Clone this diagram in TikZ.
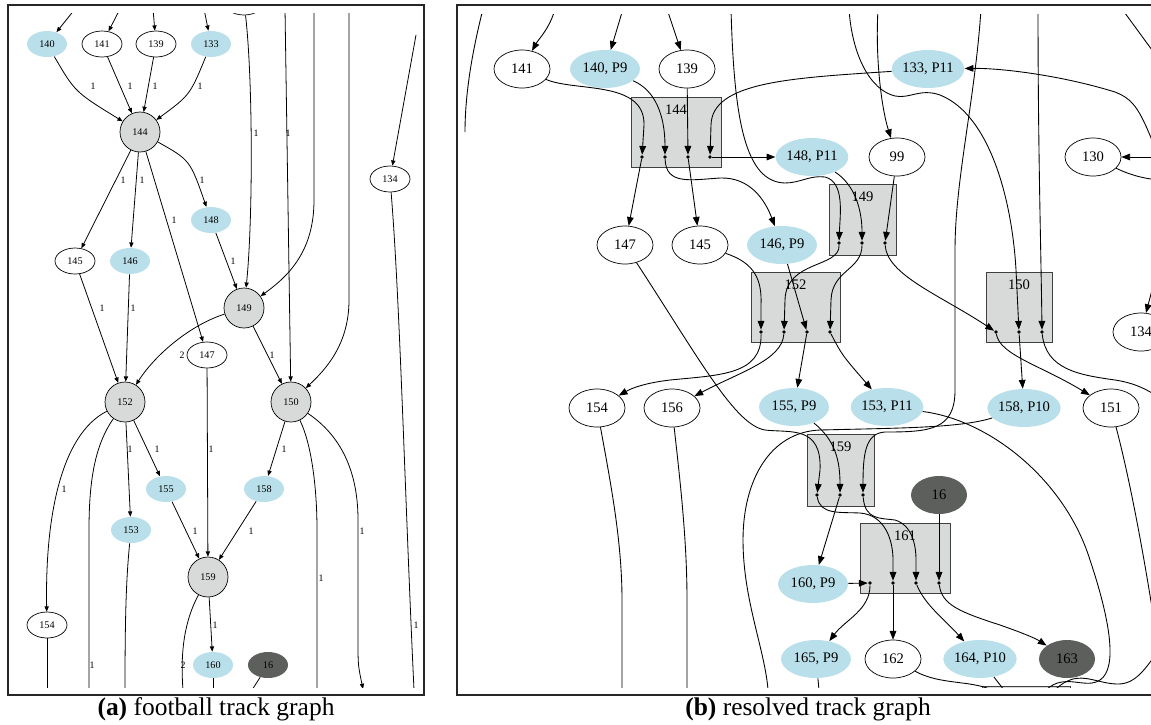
\documentclass[tikz,border=0pt]{standalone}
\usepackage{fontspec}
\setmainfont{Liberation Serif}
\usepackage{xcolor}
\usetikzlibrary{shapes.geometric, arrows.meta}
\usetikzlibrary{positioning}
\definecolor{trkblue}{RGB}{185,224,234}
\definecolor{hubgray}{RGB}{216,218,218}
\definecolor{deadgray}{RGB}{93,95,93}
\tikzstyle{lnd} = [ellipse, draw, inner sep=0pt, minimum width=0.8cm, minimum height=0.52cm, font=\fontsize{5.8}{6}\selectfont]
\tikzstyle{lbl} = [lnd, draw=none, fill=trkblue]
\tikzstyle{ldk} = [lnd, draw=none, fill=deadgray]
\tikzstyle{lhub} = [circle, draw, fill=hubgray, inner sep=0pt, minimum size=0.8cm, font=\fontsize{5.8}{6}\selectfont]
\tikzstyle{elbl} = [inner sep=0pt, font=\fontsize{5.6}{6}\selectfont]
\tikzstyle{ledge} = [-{Triangle[length=3pt, width=2.4pt]}, line width=0.45pt]
\tikzstyle{lline} = [line width=0.45pt]
\tikzstyle{rnd} = [ellipse, draw, inner sep=0pt, minimum width=1.12cm, minimum height=0.76cm, font=\fontsize{8.3}{9}\selectfont]
\tikzstyle{rbl} = [rnd, draw=none, fill=trkblue, minimum width=1.4cm]
\tikzstyle{rdk} = [rnd, draw=none, fill=deadgray]
\tikzstyle{rbox} = [rectangle, draw=black!75, fill=hubgray, inner sep=0pt, line width=0.5pt]
\tikzstyle{boxlbl} = [below=0.04cm, font=\fontsize{8.3}{9}\selectfont]
\tikzstyle{pdot} = [circle, fill, inner sep=0pt, minimum size=2.2pt]
\tikzstyle{redge} = [-{Triangle[length=5pt, width=3.8pt]}, line width=0.5pt]
\tikzstyle{rline} = [line width=0.5pt]
\tikzstyle{capt} = [inner sep=0pt, font=\fontsize{14.5}{17}\selectfont]
\tikzstyle{frame} = [line width=0.6pt, draw=black!85]

\begin{document}
\begin{tikzpicture}[x=0.02cm, y=-0.02cm]
  \useasboundingbox (0,0) rectangle (1151,724);

  % (a) football track graph
  \draw[frame] (8,5) rectangle (424,695);
  \begin{scope}
    \clip (8,13) rectangle (424,687);
    \node[lnd] (n0L) at (244,2) {};
    \node[lbl] (n140L) at (47,44) {140};
    \node[lnd] (n141L) at (102,44) {141};
    \node[lnd] (n139L) at (156,44) {139};
    \node[lbl] (n133L) at (211,44) {133};
    \node[lhub] (h144L) at (140,132) {144};
    \node[lnd] (n134L) at (390,179) {134};
    \node[lbl] (n148L) at (211,220) {148};
    \node[lnd] (n145L) at (75,261) {145};
    \node[lbl] (n146L) at (130,261) {146};
    \node[lhub] (h149L) at (244,308) {149};
    \node[lnd] (n147L) at (207,355) {147};
    \node[lhub] (h152L) at (125,402) {152};
    \node[lhub] (h150L) at (291,402) {150};
    \node[lbl] (n155L) at (166,489) {155};
    \node[lbl] (n158L) at (264,489) {158};
    \node[lbl] (n153L) at (131,530) {153};
    \node[lhub] (h159L) at (208,577) {159};
    \node[lnd] (n154L) at (47,625) {154};
    \node[lbl] (n160L) at (213,665) {160};
    \node[ldk] (n16L) at (268,665) {16};

    \coordinate (tL1) at (75,9);
    \coordinate (tL2) at (120,9);
    \coordinate (tL3) at (153,9);
    \coordinate (tL4) at (204,9);
    \coordinate (tL5) at (285,9);
    \coordinate (tL6) at (314,9);
    \coordinate (tL7) at (349,9);
    \coordinate (tL8) at (416,35);
    \coordinate (bL1) at (47,690);
    \coordinate (bL2) at (89,690);
    \coordinate (bL3) at (125,690);
    \coordinate (bL4) at (183,690);
    \coordinate (bL5) at (213,690);
    \coordinate (bL6) at (252,690);
    \coordinate (bL7) at (317,690);
    \coordinate (bL8) at (363,689);
    \coordinate (bL9) at (414,690);

    \draw[ledge] (tL1) -- (n140L);
    \draw[ledge] (tL2) -- (n141L);
    \draw[ledge] (tL3) -- (n139L);
    \draw[ledge] (tL4) -- (n133L);
    \draw[ledge] (n140L) .. controls (75,92) .. (h144L) node[elbl] at (93,86) {1};
    \draw[ledge] (n141L) -- (h144L) node[elbl] at (130,86) {1};
    \draw[ledge] (n139L) -- (h144L) node[elbl] at (155,86) {1};
    \draw[ledge] (n133L) .. controls (190,95) .. (h144L) node[elbl] at (200,86) {1};
    \draw[ledge] (h144L) -- (n145L) node[elbl] at (123,180) {1};
    \draw[ledge] (h144L) -- (n146L) node[elbl] at (142,180) {1};
    \draw[ledge] (h144L) -- (n147L) node[elbl] at (174,220) {1} node[elbl] at (182,355) {2};
    \draw[ledge] (h144L) .. controls (190,160) .. (n148L) node[elbl] at (202,180) {1};
    \draw[ledge] (n0L) .. controls (253,80) and (253,220) .. (h149L) node[elbl] at (256,133) {1};
    \draw[ledge] (tL5) -- (h150L) node[elbl] at (288,133) {1};
    \draw[ledge] (tL6) -- (314,200) .. controls (314,250) and (290,275) .. (h149L);
    \draw[ledge] (tL7) -- (349,300) .. controls (349,345) and (325,370) .. (h150L);
    \draw[ledge] (tL8) -- (n134L);
    \draw[lline] (n134L) .. controls (400,300) and (405,500) .. (bL9) node[elbl] at (416,625) {1};
    \draw[ledge] (n148L) -- (h149L) node[elbl] at (233,261) {1};
    \draw[ledge] (n145L) -- (h152L) node[elbl] at (102,308) {1};
    \draw[ledge] (n146L) -- (h152L) node[elbl] at (133,308) {1};
    \draw[ledge] (h149L) .. controls (190,325) and (155,355) .. (h152L);
    \draw[ledge] (h149L) -- (h150L) node[elbl] at (272,355) {1};
    \draw[ledge] (n147L) -- (h159L) node[elbl] at (211,449) {1};
    \draw[ledge] (h152L) -- (n155L) node[elbl] at (157,449) {1};
    \draw[ledge] (h152L) -- (n153L) node[elbl] at (130,449) {1};
    \draw[ledge] (h152L) .. controls (60,435) and (45,520) .. (n154L) node[elbl] at (64,489) {1};
    \draw[lline] (h152L) .. controls (95,445) and (89,480) .. (89,530) -- (bL2) node[elbl] at (92,665) {1};
    \draw[lline] (n153L) .. controls (126,580) and (125,620) .. (bL3);
    \draw[ledge] (h150L) -- (n158L) node[elbl] at (284,449) {1};
    \draw[lline] (h150L) .. controls (312,445) and (317,490) .. (317,530) -- (bL7) node[elbl] at (321,578) {1};
    \draw[ledge] (h150L) .. controls (340,435) and (358,470) .. (358,520) -- (358,640) .. controls (358,665) .. (bL8) node[elbl] at (362,531) {1};
    \draw[ledge] (n155L) -- (h159L) node[elbl] at (195,531) {1};
    \draw[ledge] (n158L) -- (h159L) node[elbl] at (251,531) {1};
    \draw[ledge] (h159L) -- (n160L) node[elbl] at (215,625) {1};
    \draw[lline] (h159L) .. controls (185,620) and (180,650) .. (bL4) node[elbl] at (183,665) {2};
    \draw[lline] (n160L) -- (bL5);
    \draw[lline] (n16L) -- (bL6);
    \draw[lline] (n154L) -- (bL1);
  \end{scope}

  % (b) resolved track graph
  \draw[frame] (1160,5) -- (457,5) -- (457,695) -- (1160,695);
  \begin{scope}
    \clip (457,14) rectangle (1160,687);
    \node[rbox, minimum width=1.8cm, minimum height=1.4cm] (b144) at (676,132) {};
    \node[boxlbl] (l144) at (b144.north) {144};
    \node[rbox, minimum width=1.34cm, minimum height=1.42cm] (b149) at (862.5,219.5) {};
    \node[boxlbl] (l149) at (b149.north) {149};
    \node[rbox, minimum width=1.78cm, minimum height=1.4cm] (b152) at (795.5,307) {};
    \node[boxlbl] (l152) at (b152.north) {152};
    \node[rbox, minimum width=1.32cm, minimum height=1.4cm] (b150) at (1019,307) {};
    \node[boxlbl] (l150) at (b150.north) {150};
    \node[rbox, minimum width=1.34cm, minimum height=1.44cm] (b159) at (840.5,470) {};
    \node[boxlbl] (l159) at (b159.north) {159};
    \node[rbox, minimum width=1.8cm, minimum height=1.4cm] (b161) at (905,558) {};
    \node[boxlbl] (l161) at (b161.north) {161};
    \node[rbox, minimum width=1.76cm, minimum height=1.4cm] (bbot) at (1026,721) {};

    \node[pdot] (p144a) at (642,157) {};
    \node[pdot] (p144b) at (665,157) {};
    \node[pdot] (p144c) at (688,157) {};
    \node[pdot] (p144d) at (710,157) {};
    \node[pdot] (p149a) at (839,243) {};
    \node[pdot] (p149b) at (862,243) {};
    \node[pdot] (p149c) at (885,243) {};
    \node[pdot] (p152a) at (761,332) {};
    \node[pdot] (p152b) at (784,332) {};
    \node[pdot] (p152c) at (807,332) {};
    \node[pdot] (p152d) at (830,332) {};
    \node[pdot] (p150a) at (996,332) {};
    \node[pdot] (p150b) at (1019,332) {};
    \node[pdot] (p150c) at (1042,332) {};
    \node[pdot] (p159a) at (817,495) {};
    \node[pdot] (p159b) at (840,495) {};
    \node[pdot] (p159c) at (863,495) {};
    \node[pdot] (p161a) at (870,583) {};
    \node[pdot] (p161b) at (893,583) {};
    \node[pdot] (p161c) at (916,583) {};
    \node[pdot] (p161d) at (939,583) {};

    \node[rnd] (r141) at (522,69) {141};
    \node[rbl] (r140) at (605,69) {140, P9};
    \node[rnd] (r139) at (687,69) {139};
    \node[rbl] (r133) at (928,69) {133, P11};
    \node[rbl] (r148) at (812,157) {148, P11};
    \node[rnd] (r99) at (897,157) {99};
    \node[rnd] (r130) at (1093,157) {130};
    \node[rnd] (r147) at (625,245) {147};
    \node[rnd] (r145) at (700,245) {145};
    \node[rbl] (r146) at (782,245) {146, P9};
    \node[rnd] (r134) at (1141,332) {134};
    \node[rnd] (r154) at (597,408) {154};
    \node[rnd] (r156) at (672,408) {156};
    \node[rbl] (r155) at (794,407) {155, P9};
    \node[rbl] (r153) at (887,407) {153, P11};
    \node[rbl] (r158) at (1024,408) {158, P10};
    \node[rnd] (r151) at (1111,408) {151};
    \node[rdk] (r16) at (939,495) {16};
    \node[rbl] (r160) at (813,584) {160, P9};
    \node[rbl] (r165) at (816,659) {165, P9};
    \node[rnd] (r162) at (893,659) {162};
    \node[rbl] (r164) at (980,659) {164, P10};
    \node[rdk] (r163) at (1067,659) {163};

    \coordinate (tR1) at (555,9);
    \coordinate (tR2) at (623,9);
    \coordinate (tR3) at (667,9);
    \coordinate (tR4) at (483,9);
    \coordinate (eR4) at (465,132);
    \coordinate (tR5) at (731,9);
    \coordinate (tR6) at (878,9);
    \coordinate (tR7) at (849,9);
    \coordinate (tR8) at (1038,9);
    \coordinate (tR9) at (981,9);
    \coordinate (tR10) at (1122,9);
    \coordinate (eR10) at (1160,61);
    \coordinate (sR1) at (1158,155);
    \coordinate (sR2) at (1160,157);
    \coordinate (eR3) at (1160,180);
    \coordinate (eR5) at (1160,398);
    \coordinate (sR6) at (1152,290);
    \coordinate (eR7) at (1157,640);
    \coordinate (sR8) at (1160,648);
    \coordinate (bR1) at (622,690);
    \coordinate (bR2) at (687,690);
    \coordinate (bR3) at (768,690);
    \coordinate (bR4) at (819,690);
    \coordinate (bR5) at (992,690);
    \coordinate (bR6) at (1004,690);
    \coordinate (bR7) at (1046,690);
    \coordinate (bR8) at (1055,690);

    \draw[redge] (tR1) .. controls (550,28) and (538,40) .. (r141);
    \draw[redge] (tR2) -- (r140);
    \draw[redge] (tR3) -- (r139);
    \draw[rline] (tR4) .. controls (470,60) and (465,100) .. (eR4);
    \draw[redge] (r141) .. controls (575,92) and (645,80) .. (644,125) -- (p144a);
    \draw[redge] (r140) .. controls (655,90) and (665,115) .. (p144b);
    \draw[redge] (r139) -- (p144c);
    \draw[redge] (r133) .. controls (790,78) and (712,82) .. (711,125) -- (p144d);
    \draw[redge] (p144d) -- (r148);
    \draw[redge] (p144a) -- (r147);
    \draw[redge] (p144b) .. controls (666,185) and (690,180) .. (720,178) .. controls (750,177) and (765,200) .. (r146);
    \draw[redge] (p144c) -- (r145);
    \draw[redge] (tR5) .. controls (734,120) and (745,182) .. (785,183) .. controls (800,183) and (810,175) .. (825,177) .. controls (845,182) and (840,215) .. (p149a);
    \draw[redge] (r148) .. controls (855,185) and (862,210) .. (p149b);
    \draw[redge] (r99) -- (p149c);
    \draw[redge] (tR6) .. controls (875,60) and (882,110) .. (r99);
    \draw[redge] (tR7) .. controls (852,55) and (870,90) .. (895,96) .. controls (910,99) and (920,88) .. (940,95) .. controls (990,115) and (1012,200) .. (1016,270) -- (p150b);
    \draw[redge] (tR8) .. controls (1038,150) and (1041,250) .. (p150c);
    \draw[redge] (tR9) .. controls (975,100) and (955,180) .. (955,250) -- (955,390) .. controls (955,430) and (930,432) .. (885,432) .. controls (865,433) and (863,455) .. (p159c);
    \draw[rline] (tR10) -- (eR10);
    \draw[redge] (sR1) .. controls (1140,110) and (1135,100) .. (1115,92) .. controls (1060,75) and (1000,68) .. (r133);
    \draw[redge] (sR2) -- (r130);
    \draw[rline] (r130) .. controls (1130,175) and (1145,179) .. (eR3);
    \draw[redge] (p149c) .. controls (887,275) and (940,295) .. (p150a);
    \draw[redge] (p149a) .. controls (840,268) and (786,260) .. (785,300) -- (p152b);
    \draw[redge] (p149b) .. controls (862,270) and (832,270) .. (831,300) -- (p152d);
    \draw[redge] (r145) .. controls (755,263) and (762,280) .. (761,305) -- (p152a);
    \draw[redge] (r146) -- (p152c);
    \draw[redge] (p152a) .. controls (762,375) and (720,375) .. (670,380) .. controls (645,383) and (632,388) .. (r154);
    \draw[redge] (p152b) .. controls (782,360) and (740,372) .. (r156);
    \draw[redge] (p152c) -- (r155);
    \draw[redge] (p152d) .. controls (842,355) .. (r153);
    \draw[redge] (p150a) .. controls (1000,355) and (1040,365) .. (r151);
    \draw[redge] (p150b) -- (r158);
    \draw[rline] (p150c) .. controls (1046,370) and (1080,375) .. (1115,380) .. controls (1135,383) and (1148,390) .. (eR5);
    \draw[redge] (sR6) -- (r134);
    \draw[redge] (r147) .. controls (700,360) and (735,425) .. (765,430) .. controls (790,433) and (822,425) .. (820,470) -- (p159a);
    \draw[redge] (r155) .. controls (835,440) and (840,460) .. (p159b);
    \draw[rline] (r158) .. controls (960,428) and (900,428) .. (820,430) .. controls (770,432) and (743,480) .. (743,540) .. controls (743,600) and (765,650) .. (bR3);
    \draw[rline] (r153) .. controls (990,420) and (1065,480) .. (1090,560) .. controls (1110,620) and (1118,668) .. (1100,680) .. controls (1085,690) and (1065,672) .. (bR7);
    \draw[rline] (sR8) .. controls (1145,670) and (1135,684) .. (1118,684) .. controls (1100,684) and (1085,674) .. (1070,680) .. controls (1062,683) and (1058,687) .. (bR8);
    \draw[rline] (r151) .. controls (1130,480) and (1145,560) .. (eR7);
    \draw[redge] (p159a) .. controls (820,515) and (840,512) .. (860,513) .. controls (885,515) and (893,540) .. (893,560) -- (p161b);
    \draw[redge] (p159b) -- (r160);
    \draw[redge] (p159c) .. controls (865,520) and (880,518) .. (895,520) .. controls (912,525) and (916,545) .. (916,560) -- (p161c);
    \draw[redge] (r16) -- (p161d);
    \draw[redge] (r160) -- (p161a);
    \draw[redge] (p161a) .. controls (870,610) and (845,620) .. (r165);
    \draw[redge] (p161b) -- (r162);
    \draw[redge] (p161c) .. controls (925,605) and (945,620) .. (r164);
    \draw[redge] (p161d) .. controls (942,605) and (960,612) .. (1000,625) .. controls (1020,632) and (1035,638) .. (r163);
    \draw[rline] (r162) .. controls (940,685) and (970,680) .. (bR5);
    \draw[rline] (r164) -- (bR6);
    \draw[rline] (r165) -- (bR4);
    \draw[rline] (r154) .. controls (610,480) and (622,540) .. (622,600) -- (bR1);
    \draw[rline] (r156) .. controls (680,480) and (687,540) .. (687,600) -- (bR2);
  \end{scope}

  \node[capt] (capa) at (216,709) {\textbf{(a)} football track graph};
  \node[capt] (capb) at (808,709) {\textbf{(b)} resolved track graph};
\end{tikzpicture}
\end{document}
